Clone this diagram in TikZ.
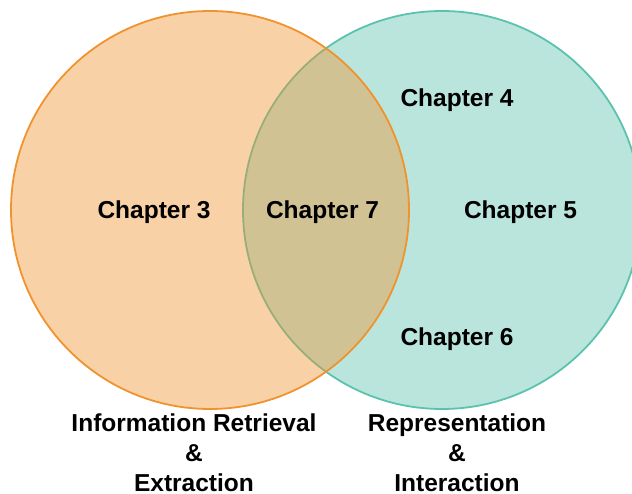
\documentclass[tikz,border=0pt]{standalone}
\usepackage{fontspec}
\setmainfont{Liberation Sans}
\definecolor{peach}{HTML}{F0922E}
\definecolor{teal}{HTML}{5BC2AE}
\begin{document}
\begin{tikzpicture}[x=1pt,y=-1pt,
  setcircle/.style={line width=1.8pt},
  chap/.style={font=\fontsize{24.5}{30}\selectfont\bfseries, inner sep=0pt, anchor=center},
  setlabel/.style={font=\fontsize{24.5}{30}\selectfont\bfseries, align=center, inner sep=0pt, anchor=center}]
  \useasboundingbox (0,0) rectangle (632,494);
  \clip (0,0) rectangle (632,494);
  % right set, drawn first so the left set tints it
  \fill[teal, fill opacity=0.42] (442,210) circle (199);
  \draw[setcircle, teal] (442,210) circle (199);
  % left set on top
  \fill[peach, fill opacity=0.42] (210,210) circle (199);
  \draw[setcircle, peach] (210,210) circle (199);
  % chapters
  \node[chap] (c3) at (154,212) {Chapter 3};
  \node[chap] (c7) at (322.5,212) {Chapter 7};
  \node[chap] (c4) at (457,100) {Chapter 4};
  \node[chap] (c5) at (520.5,212) {Chapter 5};
  \node[chap] (c6) at (457,339) {Chapter 6};
  % set names
  \node[setlabel] (ire) at (194,452.5) {Information Retrieval\\\&\\Extraction};
  \node[setlabel] (ri) at (457,452.5) {Representation\\\&\\Interaction};
\end{tikzpicture}
\end{document}
